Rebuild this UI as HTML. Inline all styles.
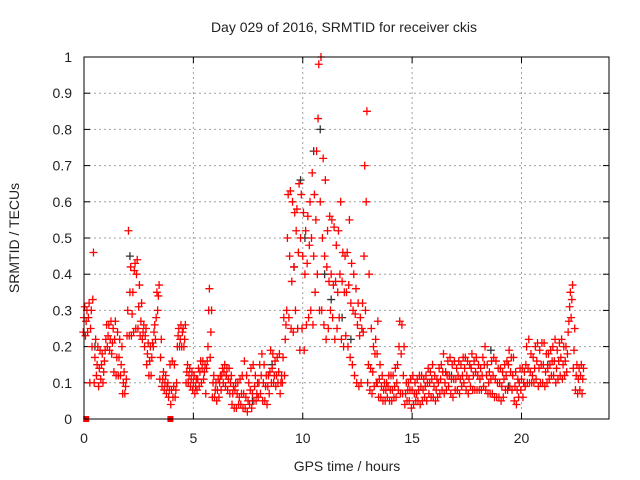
<!DOCTYPE html>
<html><head><meta charset="utf-8"><style>
body{margin:0;background:#fff}
svg{display:block;font-family:"Liberation Sans",sans-serif}
</style></head><body>
<svg id="chart" width="640" height="480">
<text x="344" y="32" text-anchor="middle" font-size="14" fill="#222">Day 029 of 2016, SRMTID for receiver ckis</text>
<text x="347" y="471" text-anchor="middle" font-size="14" fill="#222">GPS time / hours</text>
<text transform="translate(19,238) rotate(-90)" text-anchor="middle" font-size="14" fill="#222">SRMTID / TECUs</text>
<g id="grid"></g>
<g id="ticks"></g>
<g id="black"></g>
<g id="red"></g>
<rect x="84" y="57" width="525" height="362" fill="none" stroke="#000" stroke-width="1"/>
</svg>
<script>
const xTicks=[0,5,10,15,20];
const yTicks=[0,0.1,0.2,0.3,0.4,0.5,0.6,0.7,0.8,0.9,1];
const yTickLabels=["0","0.1","0.2","0.3","0.4","0.5","0.6","0.7","0.8","0.9","1"];
const tStart=0, tStep=0.1;
const redHi=[.31,.30,.32,.30,.46,.22,.20,.19,.18,.16, .26,.26,.27,.25,.27,.24,.22,.20,.13,.11, .52,.42,.35,.43,.44,.37,.32,.26,.25,.21, .20,.21,.26,.35,.37,.22,.13,.12,.10,.15, .16,.15,.10,.25,.26,.25,.26,.15,.14,.13, .12,.11,.14,.16,.16,.15,.16,.36,.30,.12, .10,.11,.12,.14,.15,.14,.14,.12,.09,.10, .10,.11,.12,.16,.12,.10,.14,.15,.12,.10, .15,.18,.15,.12,.12,.19,.18,.16,.17,.18, .12,.28,.26,.62,.63,.60,.57,.58,.65,.62, .57,.52,.56,.60,.68,.62,.74,.98,1.0,.72, .66,.52,.56,.55,.53,.48,.52,.60,.46,.45, .46,.55,.43,.40,.36,.32,.28,.32,.70,.85, .40,.25,.20,.22,.27,.15,.12,.10,.10,.12, .12,.12,.14,.15,.27,.26,.20,.10,.10,.11, .12,.10,.11,.12,.12,.11,.12,.14,.13,.15, .12,.11,.14,.15,.18,.13,.16,.17,.15,.16, .14,.16,.15,.17,.17,.16,.15,.18,.16,.17, .15,.14,.17,.20,.15,.13,.16,.17,.16,.14, .14,.13,.15,.16,.19,.17,.17,.13,.11,.14, .14,.13,.20,.22,.18,.17,.20,.21,.19,.21, .21,.18,.18,.19,.20,.22,.19,.21,.22,.20, .20,.24,.35,.37,.25,.15,.14,.15,.14];
const redMid=[.28,.27,.28,.25,.33,.17,.15,.14,.15,.13, .22,.23,.22,.21,.22,.17,.17,.15,.10,.09, .30,.35,.29,.41,.40,.31,.27,.24,.23,.18, .16,.17,.24,.28,.34,.17,.11,.10,.09,.08, .08,.09,.08,.23,.22,.24,.22,.13,.12,.11, .10,.09,.11,.13,.14,.13,.14,.30,.24,.10, .08,.08,.10,.12,.13,.12,.11,.10,.07,.08, .07,.06,.07,.07,.06,.05,.08,.07,.09,.07, .10,.12,.10,.09,.09,.13,.14,.12,.12,.13, .10,.17,.22,.50,.45,.38,.42,.52,.46,.50, .45,.40,.43,.48,.50,.45,.55,.83,.60,.50, .45,.42,.38,.40,.37,.38,.35,.40,.38,.35, .35,.37,.32,.30,.29,.26,.23,.25,.45,.60, .15,.14,.13,.18,.18,.11,.09,.08,.08,.09, .08,.08,.09,.10,.20,.18,.12,.07,.08,.08, .08,.07,.07,.08,.09,.08,.09,.10,.10,.11, .09,.08,.10,.11,.13,.10,.12,.12,.11,.11, .11,.12,.11,.12,.14,.12,.11,.14,.12,.13, .12,.11,.12,.15,.12,.10,.11,.12,.11,.10, .10,.09,.11,.12,.15,.13,.12,.09,.08,.10, .11,.10,.15,.14,.13,.12,.14,.16,.14,.15, .15,.13,.14,.15,.16,.16,.14,.16,.17,.15, .16,.18,.31,.33,.19,.12,.11,.12,.11];
const redLo=[.24,.23,.24,.10,.20,.10,.12,.09,.11,.10, .19,.20,.19,.18,.13,.12,.12,.12,.07,.07, .23,.23,.23,.24,.25,.25,.23,.22,.20,.15, .12,.12,.20,.22,.30,.11,.09,.08,.07,.06, .04,.06,.06,.20,.20,.20,.20,.10,.10,.09, .08,.07,.08,.09,.10,.11,.07,.20,.17,.06, .06,.05,.06,.08,.10,.09,.08,.07,.04,.03, .03,.04,.04,.03,.03,.02,.04,.03,.05,.05, .06,.07,.05,.05,.04,.07,.10,.10,.09,.10, .07,.10,.12,.30,.28,.25,.24,.30,.25,.19, .25,.19,.26,.28,.30,.26,.35,.40,.30,.30, .26,.22,.25,.30,.28,.22,.25,.28,.22,.20, .23,.20,.17,.15,.12,.10,.09,.10,.24,.30, .10,.08,.07,.09,.10,.06,.06,.05,.05,.06, .05,.05,.06,.06,.08,.07,.07,.04,.05,.05, .03,.04,.05,.05,.04,.05,.06,.05,.07,.06, .06,.05,.06,.07,.08,.07,.08,.09,.07,.06, .08,.08,.07,.09,.10,.08,.07,.09,.08,.08, .08,.08,.08,.09,.08,.07,.07,.07,.06,.06, .06,.05,.06,.08,.08,.09,.08,.05,.04,.06, .08,.06,.09,.10,.10,.10,.10,.11,.09,.10, .10,.09,.10,.11,.12,.12,.10,.11,.12,.11, .12,.13,.27,.28,.14,.08,.07,.08,.07];
const zeroT=[0.1,3.95];
const blackT=[0.5,2.1,6.5,7.7,8.6,9.6,9.9,10.1,10.5,10.8,11.0,11.3,11.8,12.2,13.4,15.2,16.8,18.6,19.4,21.2];
const blackV=[0.20,0.45,0.12,0.05,0.15,0.42,0.66,0.50,0.74,0.80,0.40,0.33,0.28,0.22,0.10,0.07,0.12,0.19,0.09,0.15];
const NS="http://www.w3.org/2000/svg";
const X0=84,X1=609,Y0=419,Y1=57,TMAX=24;
function xs(t){return X0+(X1-X0)*t/TMAX;}
function ys(v){return Y0-(Y0-Y1)*v;}
const grid=document.getElementById('grid'),ticks=document.getElementById('ticks');
function mk(tag,attrs,parent){const e=document.createElementNS(NS,tag);for(const k in attrs)e.setAttribute(k,attrs[k]);parent.appendChild(e);return e;}
xTicks.forEach((t,i)=>{const x=xs(t);
 if(t>0){const g=mk('line',{x1:x,x2:x,y1:Y1,y2:Y0,stroke:'#a0a0a0','stroke-dasharray':'2,3'},grid);
 
 }
 mk('line',{x1:x,x2:x,y1:Y0,y2:Y0-6,stroke:'#000'},ticks);
 mk('line',{x1:x,x2:x,y1:Y1,y2:Y1+6,stroke:'#000'},ticks);
 const tx=mk('text',{x:x,y:443,'text-anchor':'middle','font-size':'14',fill:'#222'},ticks);tx.textContent=String(t);
 
 
});
yTicks.forEach((v,i)=>{const y=ys(v);
 if(v>0&&v<1){const g=mk('line',{x1:X0,x2:X1,y1:y,y2:y,stroke:'#a0a0a0','stroke-dasharray':'2,3'},grid);
 
 }
 mk('line',{x1:X0,x2:X0+6,y1:y,y2:y,stroke:'#000'},ticks);
 mk('line',{x1:X1,x2:X1-6,y1:y,y2:y,stroke:'#000'},ticks);
 const tx=mk('text',{x:72,y:y+5,'text-anchor':'end','font-size':'14',fill:'#222'},ticks);tx.textContent=yTickLabels[i];
 
 
});
function plus(x,y,col,parent){const p=mk('path',{d:`M${x-4},${y}h8M${x},${y-4}v8`,stroke:col,'stroke-width':'1.3',fill:'none'},parent);
 
 }
const black=document.getElementById('black'),red=document.getElementById('red');
blackT.forEach((t,i)=>plus(xs(t),ys(blackV[i]),'#333',black));
[[redLo,-0.033],[redMid,0],[redHi,0.033]].forEach(([arr,dx])=>{
 arr.forEach((v,i)=>{const t=tStart+i*tStep+dx;plus(xs(t),ys(v),'#f00',red);});
});
zeroT.forEach(t=>{const r=mk('rect',{x:xs(t)-3,y:Y0-3,width:6,height:6,fill:'#f00'},red);
 
 });
</script>
</body></html>
